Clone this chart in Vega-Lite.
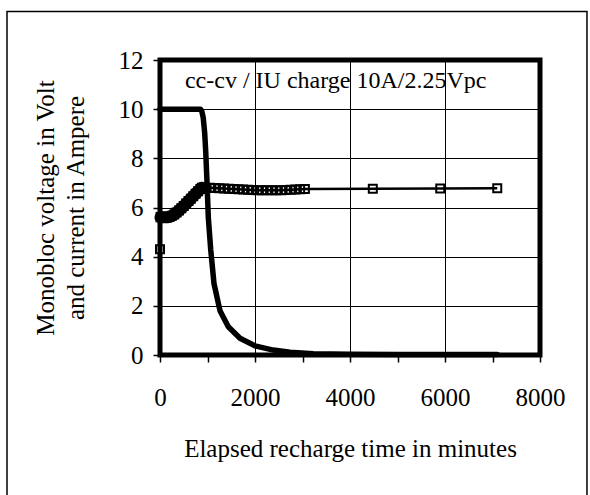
{
  "$schema": "https://vega.github.io/schema/vega-lite/v6.json",
  "width": 380,
  "height": 295,
  "autosize": {"type": "none"},
  "padding": {"left": 160, "top": 60, "right": 50, "bottom": 140},
  "background": "white",
  "config": {
    "view": {"stroke": "black", "strokeWidth": 5},
    "font": "Liberation Serif"
  },
  "datasets": {
    "current": [
      {"t": 0, "v": 10}, {"t": 200, "v": 10}, {"t": 400, "v": 10}, {"t": 600, "v": 10},
      {"t": 800, "v": 10}, {"t": 850, "v": 10}, {"t": 880, "v": 9.92}, {"t": 910, "v": 9.65},
      {"t": 940, "v": 9.05}, {"t": 962, "v": 8.3}, {"t": 990, "v": 7.0}, {"t": 1017, "v": 5.6},
      {"t": 1067, "v": 4.3}, {"t": 1137, "v": 2.9}, {"t": 1263, "v": 1.8}, {"t": 1438, "v": 1.15},
      {"t": 1684, "v": 0.68}, {"t": 2000, "v": 0.37}, {"t": 2386, "v": 0.2}, {"t": 2737, "v": 0.11},
      {"t": 3228, "v": 0.05}, {"t": 4000, "v": 0.03}, {"t": 5000, "v": 0.02}, {"t": 6000, "v": 0.02},
      {"t": 7100, "v": 0.02}
    ],
    "voltage": [
      {"t": 0, "v": 4.3}, {"t": 10, "v": 5.6}, {"t": 25, "v": 5.62}, {"t": 50, "v": 5.6},
      {"t": 75, "v": 5.6}, {"t": 100, "v": 5.6}, {"t": 150, "v": 5.6}, {"t": 200, "v": 5.62},
      {"t": 250, "v": 5.66}, {"t": 300, "v": 5.72}, {"t": 350, "v": 5.8}, {"t": 400, "v": 5.88},
      {"t": 450, "v": 5.97}, {"t": 500, "v": 6.06}, {"t": 550, "v": 6.16}, {"t": 600, "v": 6.26},
      {"t": 650, "v": 6.36}, {"t": 700, "v": 6.46}, {"t": 750, "v": 6.56}, {"t": 800, "v": 6.66},
      {"t": 850, "v": 6.75}, {"t": 880, "v": 6.8}, {"t": 950, "v": 6.8}, {"t": 1050, "v": 6.8},
      {"t": 1150, "v": 6.79}, {"t": 1250, "v": 6.78}, {"t": 1350, "v": 6.77}, {"t": 1450, "v": 6.76},
      {"t": 1550, "v": 6.75}, {"t": 1650, "v": 6.74}, {"t": 1750, "v": 6.73}, {"t": 1850, "v": 6.72},
      {"t": 1950, "v": 6.71}, {"t": 2050, "v": 6.7}, {"t": 2150, "v": 6.7}, {"t": 2250, "v": 6.7},
      {"t": 2350, "v": 6.7}, {"t": 2450, "v": 6.7}, {"t": 2550, "v": 6.7}, {"t": 2650, "v": 6.71},
      {"t": 2750, "v": 6.72}, {"t": 2850, "v": 6.73}, {"t": 2950, "v": 6.74}, {"t": 3050, "v": 6.75},
      {"t": 4480, "v": 6.76}, {"t": 5900, "v": 6.77}, {"t": 7100, "v": 6.78}
    ]
  },
  "layer": [
    {
      "data": {"name": "current"},
      "mark": {"type": "line", "color": "black", "strokeWidth": 5.5, "strokeJoin": "round", "strokeCap": "round"},
      "encoding": {
        "x": {
          "field": "t", "type": "quantitative",
          "scale": {"domain": [0, 8000], "nice": false, "zero": false},
          "axis": {
            "values": [0, 500, 1000, 1500, 2000, 2500, 3000, 3500, 4000, 4500, 5000, 5500, 6000, 6500, 7000, 7500, 8000],
            "format": "d",
            "labelExpr": "datum.value % 2000 === 0 ? datum.label : ''",
            "labelOverlap": false,
            "labelFlush": false,
            "labelFont": "Liberation Serif",
            "labelFontSize": 25,
            "labelColor": "black",
            "labelPadding": 23,
            "domain": false,
            "ticks": true,
            "tickSize": 7,
            "tickWidth": 1.5,
            "tickColor": "black",
            "grid": true,
            "gridColor": "black",
            "gridWidth": 1,
            "gridOpacity": {"condition": {"test": "datum.value % 2000 === 0 && datum.value > 0 && datum.value < 8000", "value": 1}, "value": 0},
            "title": "Elapsed recharge time in minutes",
            "titleFont": "Liberation Serif",
            "titleFontSize": 25,
            "titleFontWeight": "normal",
            "titleColor": "black",
            "titleBaseline": "alphabetic",
            "titleX": 190,
            "titleY": 101
          }
        },
        "y": {
          "field": "v", "type": "quantitative",
          "scale": {"domain": [0, 12], "nice": false, "zero": false},
          "axis": {
            "values": [0, 2, 4, 6, 8, 10, 12],
            "labelFont": "Liberation Serif",
            "labelFontSize": 25,
            "labelColor": "black",
            "labelPadding": 10,
            "domain": false,
            "tickSize": 7,
            "tickWidth": 1.5,
            "tickColor": "black",
            "grid": true,
            "gridColor": "black",
            "gridWidth": 1,
            "gridOpacity": {"condition": {"test": "datum.value > 0 && datum.value < 12", "value": 1}, "value": 0},
            "title": ["Monobloc voltage in Volt", "and current in Ampere"],
            "titleFont": "Liberation Serif",
            "titleFontSize": 25,
            "titleFontWeight": "normal",
            "titleColor": "black",
            "titleBaseline": "alphabetic",
            "titleLineHeight": 30,
            "titleAngle": -90,
            "titleAlign": "center",
            "titleX": -107,
            "titleY": 147.5
          }
        }
      }
    },
    {
      "data": {"name": "voltage"},
      "transform": [{"filter": "datum.t >= 10 && datum.t <= 880"}],
      "mark": {"type": "line", "color": "black", "strokeWidth": 12, "strokeJoin": "round", "strokeCap": "round"},
      "encoding": {
        "x": {"field": "t", "type": "quantitative"},
        "y": {"field": "v", "type": "quantitative"}
      }
    },
    {
      "data": {"name": "voltage"},
      "mark": {"type": "line", "color": "black", "strokeWidth": 2.5, "strokeJoin": "round"},
      "encoding": {
        "x": {"field": "t", "type": "quantitative"},
        "y": {"field": "v", "type": "quantitative"}
      }
    },
    {
      "data": {"name": "voltage"},
      "mark": {"type": "point", "shape": "square", "filled": false, "stroke": "black", "strokeWidth": 2, "size": 64, "opacity": 1},
      "encoding": {
        "x": {"field": "t", "type": "quantitative"},
        "y": {"field": "v", "type": "quantitative"}
      }
    },
    {
      "data": {"values": [{}]},
      "mark": {"type": "text", "text": "cc-cv / IU charge 10A/2.25Vpc", "font": "Liberation Serif", "fontSize": 24, "align": "left", "baseline": "alphabetic", "color": "black"},
      "encoding": {
        "x": {"datum": 525, "type": "quantitative"},
        "y": {"datum": 10.85, "type": "quantitative"}
      }
    },
    {
      "data": {"values": [{}]},
      "mark": {"type": "rect", "filled": false, "stroke": "black", "strokeWidth": 1.5, "clip": false},
      "encoding": {
        "x": {"datum": -3221, "type": "quantitative"},
        "x2": {"datum": 8989},
        "y": {"datum": 13.97, "type": "quantitative"},
        "y2": {"datum": -5.77}
      }
    }
  ]
}
